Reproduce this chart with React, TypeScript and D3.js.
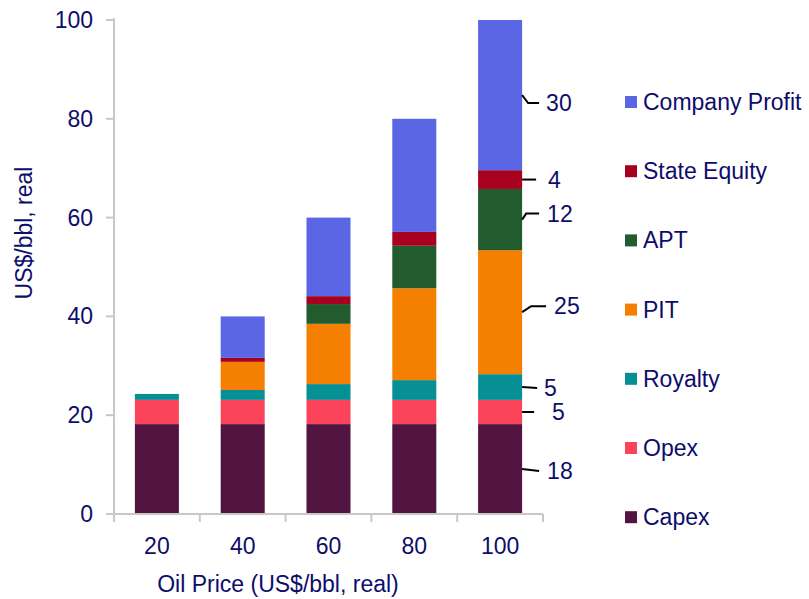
import React, { useEffect, useRef } from 'react';
import * as d3 from 'd3';

// Oil price scenarios (x categories)
const prices = ['20', '40', '60', '80', '100'];

// Series, bottom to top of the stack
const seriesNames = ['Capex', 'Opex', 'Royalty', 'PIT', 'APT', 'State Equity', 'Company Profit'];
const seriesColors = ['#521541', '#fb4459', '#069096', '#f47f00', '#215b2e', '#a8001f', '#5b66e5'];

const capex = [18.2, 18.2, 18.2, 18.2, 18.2];
const opex = [4.9, 4.9, 4.9, 4.9, 4.9];
const royalty = [1.2, 2.0, 3.2, 4.0, 5.2];
const pit = [0, 5.7, 12.2, 18.6, 25.1];
const apt = [0, 0, 4.0, 8.6, 12.4];
const stateEquity = [0, 0.8, 1.6, 2.8, 3.8];
const companyProfit = [0, 8.4, 15.9, 22.9, 30.4];

const yTicks = [0, 20, 40, 60, 80, 100];

// leader line shape for the value labels on the last bar (bottom to top)
const labelLayout = [
  { dy: 2, elbow: 0, end: 17, text: 25 },
  { dy: 0, elbow: 0, end: 12, text: 30 },
  { dy: 1, elbow: 0, end: 15, text: 22 },
  { dy: -6, elbow: 9, end: 24, text: 32 },
  { dy: -6, elbow: 4, end: 17, text: 25 },
  { dy: 0, elbow: 0, end: 14, text: 26 },
  { dy: 8, elbow: 6, end: 17, text: 24 },
];

const FONT = 'Liberation Sans, Arial, sans-serif';
const TEXT = '#0d0d6b';

const App = () => {
  const svgRef = useRef<SVGSVGElement>(null);

  useEffect(() => {
    const width = 809;
    const height = 599;

    const svg = d3.select(svgRef.current);
    svg.selectAll('*').remove();
    svg.attr('width', width).attr('height', height);

    const rows = prices.map((p, i) => ({
      price: p,
      Capex: capex[i],
      Opex: opex[i],
      Royalty: royalty[i],
      PIT: pit[i],
      APT: apt[i],
      'State Equity': stateEquity[i],
      'Company Profit': companyProfit[i],
    }));

    const stacked = d3.stack<any>().keys(seriesNames)(rows);

    const x = d3.scaleBand()
      .domain(prices)
      .range([114, 543])
      .paddingInner(0.487)
      .paddingOuter(0.2435);

    const y = d3.scaleLinear().domain([0, 100]).range([514, 20]);

    // bars
    svg.append('g')
      .selectAll('g')
      .data(stacked)
      .join('g')
      .attr('fill', (d, i) => seriesColors[i])
      .selectAll('rect')
      .data(d => d.filter(s => s[1] - s[0] > 0))
      .join('rect')
      .attr('x', d => x(d.data.price)!)
      .attr('width', x.bandwidth())
      .attr('y', d => y(d[1]))
      .attr('height', d => y(d[0]) - y(d[1]));

    // axes
    const axisColor = '#c8c8c8';
    const axes = svg.append('g').attr('stroke', axisColor).attr('stroke-width', 2);
    const x0 = 114;
    const x1 = 543;
    axes.append('line').attr('x1', x0).attr('x2', x0).attr('y1', y(100) - 2).attr('y2', y(0) + 8);
    axes.append('line').attr('x1', x0 - 8).attr('x2', x1).attr('y1', y(0)).attr('y2', y(0));
    yTicks.forEach(t => {
      axes.append('line').attr('x1', x0 - 8).attr('x2', x0).attr('y1', y(t)).attr('y2', y(t));
    });
    const step = x.step();
    for (let i = 0; i <= prices.length; i++) {
      const px = x0 + i * step;
      axes.append('line').attr('x1', px).attr('x2', px).attr('y1', y(0)).attr('y2', y(0) + 8);
    }

    // tick labels
    svg.append('g')
      .selectAll('text')
      .data(yTicks)
      .join('text')
      .attr('x', 93)
      .attr('y', d => y(d))
      .attr('dy', '0.35em')
      .attr('text-anchor', 'end')
      .text(d => d);

    svg.append('g')
      .selectAll('text')
      .data(prices)
      .join('text')
      .attr('x', d => x(d)! + x.bandwidth() / 2)
      .attr('y', 554)
      .attr('text-anchor', 'middle')
      .text(d => d);

    // axis titles
    svg.append('text')
      .attr('x', 278)
      .attr('y', 592)
      .attr('text-anchor', 'middle')
      .text('Oil Price (US$/bbl, real)');

    svg.append('text')
      .attr('transform', `translate(32,233) rotate(-90)`)
      .attr('text-anchor', 'middle')
      .text('US$/bbl, real');

    // value labels for the last bar
    const last = prices.length - 1;
    const barRight = x(prices[last])! + x.bandwidth();
    const labels = svg.append('g');
    stacked.forEach((s, i) => {
      const seg = s[last];
      const mid = y((seg[0] + seg[1]) / 2);
      const l = labelLayout[i];
      const ly = mid + l.dy;
      const pts: [number, number][] = [[barRight, mid]];
      if (l.elbow > 0) pts.push([barRight + l.elbow, ly]);
      pts.push([barRight + l.end, ly]);
      labels.append('path')
        .attr('d', d3.line()(pts))
        .attr('fill', 'none')
        .attr('stroke', '#000')
        .attr('stroke-width', 2);
      labels.append('text')
        .attr('x', barRight + l.text)
        .attr('y', ly)
        .attr('dy', '0.35em')
        .text(d3.format('.0f')(seg[1] - seg[0]));
    });

    // legend, top entry is the top of the stack
    const legend = svg.append('g');
    const order = seriesNames.map((n, i) => i).reverse();
    order.forEach((si, row) => {
      const ry = 102 + row * 69.2;
      legend.append('rect')
        .attr('x', 625)
        .attr('y', ry - 6)
        .attr('width', 12)
        .attr('height', 12)
        .attr('fill', seriesColors[si]);
      legend.append('text')
        .attr('x', 643)
        .attr('y', ry)
        .attr('dy', '0.35em')
        .text(seriesNames[si]);
    });

    svg.selectAll('text')
      .attr('fill', TEXT)
      .style('font-family', FONT)
      .style('font-size', '23px');
  }, []);

  return (
    <svg ref={svgRef} style={{ position: 'absolute', left: 0, top: 0 }}></svg>
  );
};

export default App;
